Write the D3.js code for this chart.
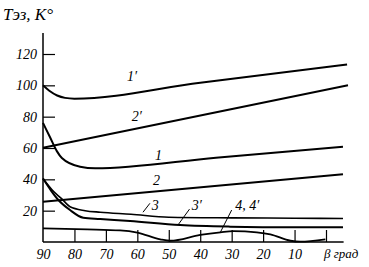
<!DOCTYPE html>
<html>
<head>
<meta charset="utf-8">
<script src="https://cdn.jsdelivr.net/npm/d3@7"></script>
<style>
  body { margin: 0; background: #fff; }
  svg text { font-family: "Liberation Serif", "DejaVu Serif", serif; font-style: italic; fill: #000; }
</style>
</head>
<body>
<svg width="369" height="267"></svg>
<script>
var width = 369;
var height = 267;

// beta (deg), T (K) pairs
var curve1p = [[90, 100], [88, 96.5], [85.5, 93.5], [83, 92], [80, 91.5], [40, 101.7], [-6.7, 113.3]];
var curve2p = [[90, 60.2], [-7, 100]];
var curve1 = [[90, 76], [87.8, 67], [85.6, 58], [84, 53.6], [78.2, 48], [73.4, 47], [35, 53.8], [-5.4, 60.8]];
var curve2 = [[90, 25.7], [-5.4, 43.3]];
var curve3 = [[90, 40.5], [87, 33], [84, 27.5], [81.4, 22.5], [76.6, 20], [71.8, 19], [62, 17.7], [50, 15.8], [30, 15.4], [10, 15.2], [-5.4, 15]];
var curve3p = [[90, 40.5], [87.5, 33], [85.1, 26.8], [81.4, 20.4], [77.2, 15.5], [71.8, 14.7], [62.3, 13.4], [46.4, 10.8], [30.5, 9.8], [10, 9.4], [-5.4, 9.4]];
var curve4 = [[90, 8.7], [76, 8.1], [65.5, 7.4], [60, 6], [52.7, 1.7], [49.5, 0.8], [40, 4.5], [33.6, 6.2], [29.5, 7], [22, 6.2], [17.7, 4.9], [11.3, 0.8], [8.2, 0.2], [0.2, 1.7]];

var xTicks = [90, 80, 70, 60, 50, 40, 30, 20, 10, 0];
var yTicks = [20, 40, 60, 80, 100, 120];

// labels: text, beta, T at text start / baseline
var labels = [
  ["1\u2032", 63.3, 103],
  ["2\u2032", 61.8, 77],
  ["1", 54.4, 52.3],
  ["2", 55, 36.4],
  ["3", 55.4, 20.4],
  ["3\u2032", 42.7, 20.4],
  ["4, 4\u2032", 28.9, 20.4]
];
// leader lines: [beta1, T1, beta2, T2]
var leaders = [
  [58.2, 19, 56.0, 24.7],
  [47.1, 10.8, 43.4, 21],
  [33.7, 5.8, 30, 20.4]
];

var xScale = d3.scaleLinear().domain([90, 0]).range([43, 326]);
var yScale = d3.scaleLinear().domain([0, 120]).range([242, 54]);

var svg = d3.select("svg");

var xAxis = d3.axisBottom(xScale)
  .tickValues(xTicks)
  .tickSize(-12)
  .tickSizeOuter(0)
  .tickPadding(7)
  .tickFormat(d => d === 0 ? "" : d);

var yAxis = d3.axisLeft(yScale)
  .tickValues(yTicks)
  .tickSize(-12)
  .tickSizeOuter(0)
  .tickPadding(6);

var gx = svg.append("g")
  .attr("transform", "translate(0," + yScale(0) + ")")
  .call(xAxis);
gx.select(".domain").remove();
gx.selectAll(".tick").filter(d => d === 90).select("line").remove();

var gy = svg.append("g")
  .attr("transform", "translate(" + xScale(90) + ",0)")
  .call(yAxis);
gy.select(".domain").remove();

svg.selectAll(".tick line").attr("stroke", "#000").attr("stroke-width", 1.2);
svg.selectAll(".tick text")
  .style("font-size", "14px")
  .style("font-family", "'Liberation Serif', serif")
  .style("font-style", "italic")
  .attr("fill", "#000");

// axis lines
svg.append("line")
  .attr("x1", xScale(90)).attr("x2", xScale(-5.6))
  .attr("y1", yScale(0)).attr("y2", yScale(0))
  .attr("stroke", "#000").attr("stroke-width", 1.5);
svg.append("line")
  .attr("x1", xScale(90)).attr("x2", xScale(90))
  .attr("y1", yScale(0)).attr("y2", 33)
  .attr("stroke", "#000").attr("stroke-width", 1.5);

var line = d3.line()
  .x(d => xScale(d[0]))
  .y(d => yScale(d[1]))
  .curve(d3.curveMonotoneX);

var curves = [
  [curve1p, 2], [curve2p, 2], [curve1, 2], [curve2, 2],
  [curve3, 1.6], [curve3p, 2], [curve4, 1.8]
];

svg.selectAll("path.curve")
  .data(curves)
  .enter()
  .append("path")
    .attr("class", "curve")
    .attr("d", d => line(d[0]))
    .attr("fill", "none")
    .attr("stroke", "#000")
    .attr("stroke-width", d => d[1]);

svg.selectAll("line.leader")
  .data(leaders)
  .enter()
  .append("line")
    .attr("class", "leader")
    .attr("x1", d => xScale(d[0]))
    .attr("y1", d => yScale(d[1]))
    .attr("x2", d => xScale(d[2]))
    .attr("y2", d => yScale(d[3]))
    .attr("stroke", "#000")
    .attr("stroke-width", 1);

svg.selectAll("text.lbl")
  .data(labels)
  .enter()
  .append("text")
    .attr("class", "lbl")
    .attr("x", d => xScale(d[1]))
    .attr("y", d => yScale(d[2]))
    .style("font-size", "14px")
    .text(d => d[0]);

svg.append("text")
  .attr("x", 3)
  .attr("y", 20)
  .style("font-size", "17px")
  .text("T\u044d\u0437, K\u00b0");

svg.append("text")
  .attr("x", 324)
  .attr("y", 258)
  .style("font-size", "13px")
  .text("\u03b2 \u0433\u0440\u0430\u0434");
</script>
</body>
</html>
